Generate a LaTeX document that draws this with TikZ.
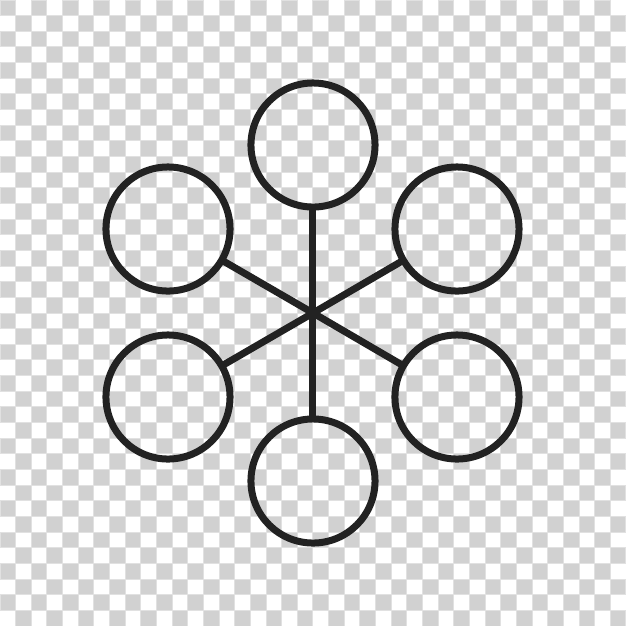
\documentclass[tikz,border=0pt]{standalone}
\definecolor{chk}{HTML}{D1D1D1}
\definecolor{chkedge}{HTML}{E1E1E1}
\definecolor{ink}{HTML}{222222}
\begin{document}
\begin{tikzpicture}[x=0.01cm,y=-0.01cm,
  bubble/.style={circle,draw=ink,line width=0.07cm,minimum size=1.24cm,inner sep=0pt,outer sep=0pt},
  spoke/.style={draw=ink,line width=0.07cm},
  cell/.style={fill=chk,draw=chkedge,line width=0.01cm}]
\useasboundingbox (0,0) rectangle (626,626);
\fill[white] (0,0) rectangle (626,626);
\foreach \i in {0,2,...,38}{
  \foreach \j in {0,2,...,38}{
    \path[cell] ({\i*15.65},{\j*15.65}) rectangle ++(15.65,15.65);
    \path[cell] ({(\i+1)*15.65},{(\j+1)*15.65}) rectangle ++(15.65,15.65);
  }
}
\coordinate (hub) at (313,313);
\node[bubble] (top) at (313,145) {};
\node[bubble] (ul) at (168,229) {};
\node[bubble] (ur) at (457,229) {};
\node[bubble] (ll) at (168,397) {};
\node[bubble] (lr) at (457,397) {};
\node[bubble] (bot) at (313,481) {};
\foreach \n in {top,ul,ur,ll,lr,bot}{
  \draw[spoke] (hub) -- (\n);
}
\end{tikzpicture}
\end{document}
